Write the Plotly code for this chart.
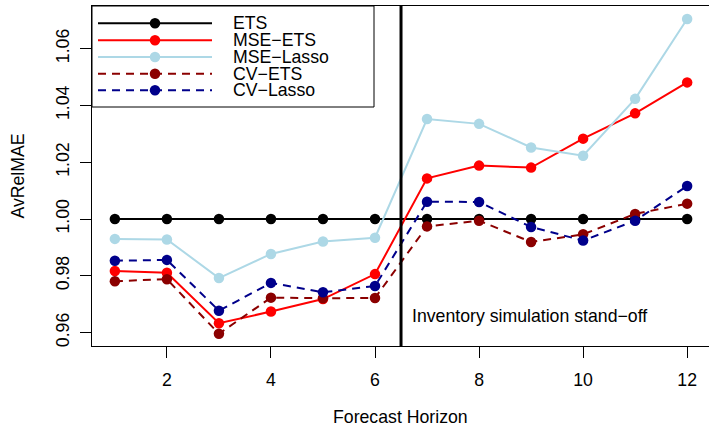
import plotly.graph_objects as go

# ---- data ----
horizon = list(range(1, 13))
ets = [1.0] * 12
mse_ets = [0.9817, 0.9811, 0.9633, 0.9674, 0.9718, 0.9806, 1.0143, 1.0188, 1.0181, 1.0283, 1.0372, 1.0481]
mse_lasso = [0.9930, 0.9928, 0.9792, 0.9877, 0.9921, 0.9934, 1.0352, 1.0335, 1.0252, 1.0223, 1.0423, 1.0704]
cv_ets = [0.9781, 0.9788, 0.9596, 0.9723, 0.9721, 0.9722, 0.9974, 0.9994, 0.9919, 0.9946, 1.0018, 1.0054]
cv_lasso = [0.9853, 0.9856, 0.9677, 0.9775, 0.9742, 0.9764, 1.0061, 1.0060, 0.9972, 0.9924, 0.9994, 1.0116]
series_names = ["ETS", "MSE\u2212ETS", "MSE\u2212Lasso", "CV\u2212ETS", "CV\u2212Lasso"]
x_ticks = [2, 4, 6, 8, 10, 12]
y_ticks = [0.96, 0.98, 1.00, 1.02, 1.04, 1.06]
standoff_x = 6.5
standoff_label = "Inventory simulation stand\u2212off"
x_title = "Forecast Horizon"
y_title = "AvRelMAE"

colors = ["#000000", "#FF0000", "#ADD8E6", "#8B0000", "#00008B"]
dashes = ["solid", "solid", "solid", "8px,6px", "8px,6px"]
values = [ets, mse_ets, mse_lasso, cv_ets, cv_lasso]

FONT = "Liberation Sans, Arial, Helvetica, sans-serif"
FS = 17.7
W, H = 709, 429
ML, MR, MT, MB = 92, 0, 6, 83

fig = go.Figure()
for name, vals, col, dash in zip(series_names, values, colors, dashes):
    fig.add_trace(go.Scatter(
        x=horizon, y=vals, mode="lines+markers", name=name,
        line=dict(color=col, width=2, dash=dash),
        marker=dict(color=col, size=10.5),
        showlegend=False,
    ))

# vertical stand-off line
fig.add_shape(type="line", xref="x", yref="paper", x0=standoff_x, x1=standoff_x,
              y0=0, y1=1, line=dict(color="black", width=3), layer="above")
fig.add_annotation(x=standoff_x, y=0.96595, xref="x", yref="y", text=standoff_label,
                   showarrow=False, xanchor="left", yanchor="middle", xshift=10,
                   borderpad=0,
                   font=dict(family=FONT, size=FS, color="black"))

# x-axis title (R style, centred under the full plotting region)
fig.add_annotation(xref="paper", yref="paper", x=(400 - ML) / (W - ML - MR), y=0,
                   text=x_title, showarrow=False, xanchor="center", yanchor="middle",
                   yshift=-71, borderpad=0,
                   font=dict(family=FONT, size=FS, color="black"))

# manual R-style legend
pw = W - ML - MR
ph = H - MT - MB
def px_x(px):
    return (px - ML) / pw
def px_y(py):
    return (H - MB - py) / ph

fig.add_shape(type="rect", xref="paper", yref="paper",
              x0=px_x(92), x1=px_x(374), y0=px_y(107), y1=px_y(6),
              line=dict(color="black", width=1), fillcolor="white", layer="above")
entry_y = [23.3, 40.3, 57.0, 73.7, 90.3]
for name, col, dash, ey in zip(series_names, colors, dashes, entry_y):
    yy = px_y(ey)
    fig.add_shape(type="line", xref="paper", yref="paper",
                  x0=px_x(98), x1=px_x(212), y0=yy, y1=yy,
                  line=dict(color=col, width=2, dash=dash), layer="above")
    fig.add_shape(type="circle", xref="paper", yref="paper",
                  xsizemode="pixel", ysizemode="pixel",
                  xanchor=px_x(155), yanchor=yy,
                  x0=-5.25, x1=5.25, y0=-5.25, y1=5.25,
                  fillcolor=col, line=dict(width=0), layer="above")
    fig.add_annotation(xref="paper", yref="paper", x=px_x(232), y=yy, text=name,
                       showarrow=False, xanchor="left", yanchor="middle",
                       borderpad=0,
                       font=dict(family=FONT, size=FS, color="black"))

fig.update_layout(
    width=W, height=H,
    margin=dict(l=ML, r=MR, t=MT, b=MB, pad=0, autoexpand=False),
    paper_bgcolor="white", plot_bgcolor="white",
    font=dict(family=FONT, size=FS, color="black"),
    showlegend=False,
)
fig.update_xaxes(
    range=[0.56, 12.42], tickvals=x_ticks, ticktext=[str(v) for v in x_ticks],
    automargin=False,
    showgrid=False, zeroline=False, showline=True, mirror=True,
    linecolor="black", linewidth=1,
    ticks="outside", ticklen=11, tickwidth=1, tickcolor="black",
    ticklabelstandoff=7,
)
fig.update_yaxes(
    range=[0.95528, 1.07500], tickvals=y_ticks, ticktext=[f"{v:.2f}" for v in y_ticks],
    automargin=False,
    tickangle=-90,
    showgrid=False, zeroline=False, showline=True, mirror=False,
    linecolor="black", linewidth=1,
    ticks="outside", ticklen=11, tickwidth=1, tickcolor="black",
    ticklabelstandoff=4,
    title=dict(text=y_title, font=dict(family=FONT, size=FS), standoff=23),
)

fig.write_html("out.html", config={"displayModeBar": False},
               post_script="document.body.style.margin='0';document.body.style.padding='0';document.body.style.overflow='hidden';")
